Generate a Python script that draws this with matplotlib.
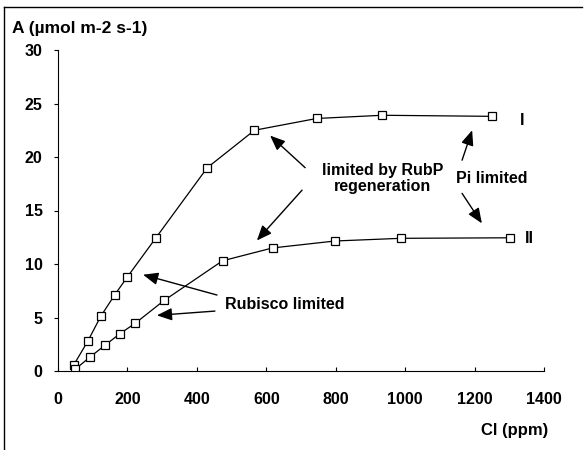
import matplotlib
matplotlib.use("Agg")
import matplotlib.pyplot as plt
from matplotlib.lines import Line2D

# CO2 response of net assimilation, two curves
ci_1 = [46, 86, 123, 163, 200, 281, 430, 566, 745, 934, 1251]
a_1 = [0.6, 2.8, 5.1, 7.1, 8.8, 12.4, 19.0, 22.5, 23.6, 23.9, 23.8]
ci_2 = [49, 92, 135, 179, 222, 306, 474, 618, 798, 987, 1302]
a_2 = [0.15, 1.3, 2.4, 3.5, 4.45, 6.6, 10.3, 11.5, 12.15, 12.4, 12.45]

xticks = [0, 200, 400, 600, 800, 1000, 1200, 1400]
yticks = [0, 5, 10, 15, 20, 25, 30]

plt.rcParams['font.family'] = ['Liberation Sans', 'DejaVu Sans']
plt.rcParams['font.weight'] = 'bold'
fs = 11.5

fig = plt.figure(figsize=(5.85, 4.5), dpi=100)
ax = fig.add_axes([58/585, 79/450, 486/585, 321/450])

for x, y in [(ci_1, a_1), (ci_2, a_2)]:
	ax.plot(x, y, '-', color='black', lw=0.9, marker='s', ms=5.5,
		mfc='white', mec='black', mew=0.9)

ax.set_xlim(0, 1400)
ax.set_ylim(0, 30)
ax.set_xticks(xticks)
ax.set_yticks(yticks)
ax.spines['top'].set_visible(False)
ax.spines['right'].set_visible(False)
ax.tick_params(axis='x', direction='in', length=3, pad=15, labelsize=11.5)
ax.tick_params(axis='y', direction='out', length=3, pad=8, labelsize=11.5)
for lab in ax.get_xticklabels() + ax.get_yticklabels():
	lab.set_fontweight('bold')

# axis titles
fig.text(12/585, 1 - 29/450, 'A (µmol m-2 s-1)', fontsize=12.5, fontweight='bold',
	ha='left', va='center')
fig.text(515/585, 1 - 431/450, 'Cl (ppm)', fontsize=12, fontweight='bold',
	ha='center', va='center')

# curve labels
ax.text(1331, 23.4, 'I', fontsize=fs, fontweight='bold', ha='left', va='center')
ax.text(1345, 12.4, 'II', fontsize=fs, fontweight='bold', ha='left', va='center')

ax.text(936, 18.0, 'limited by RubP\nregeneration', fontsize=fs, fontweight='bold',
	ha='center', va='center', linespacing=1.05)
ax.text(1250, 18.0, 'Pi limited', fontsize=fs, fontweight='bold', ha='center', va='center')
ax.text(654, 6.26, 'Rubisco limited', fontsize=fs, fontweight='bold', ha='center', va='center')

arrow = dict(arrowstyle='-|>,head_length=0.65,head_width=0.27', color='black', lw=1,
	mutation_scale=14, shrinkA=0, shrinkB=0)
for start, end in [((712, 19.0), (611, 22.0)),
		((703, 16.9), (573, 12.2)),
		((458, 7.1), (245, 9.0)),
		((452, 5.6), (285, 5.2)),
		((1164, 19.7), (1193, 22.5)),
		((1164, 16.6), (1221, 13.8))]:
	ax.annotate('', xy=end, xytext=start, arrowprops=arrow)

# partial frame around the figure
fig.add_artist(Line2D([4/585, 4/585], [0, 1 - 7/450], color='black', lw=1))
fig.add_artist(Line2D([4/585, 582/585], [1 - 7/450, 1 - 7/450], color='black', lw=1))

fig.savefig('out.png', dpi=100)
